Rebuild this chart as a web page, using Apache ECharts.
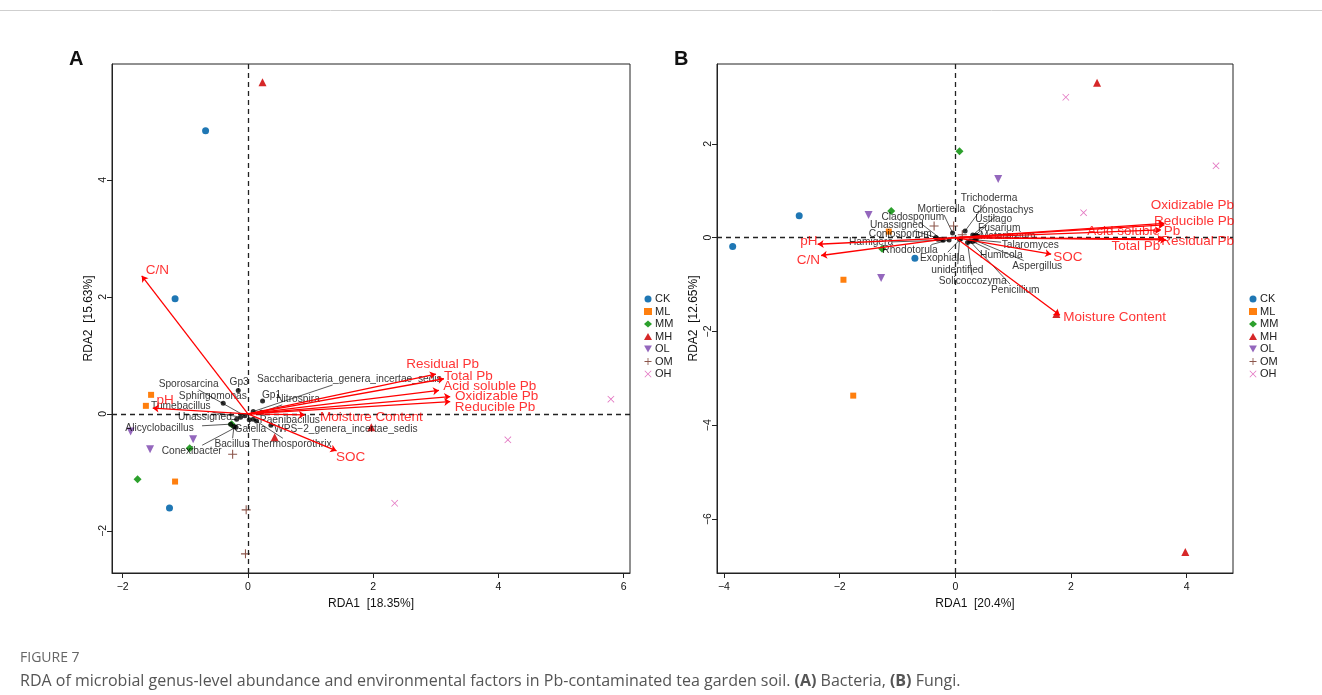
<!DOCTYPE html>
<html>
<head>
<meta charset="utf-8">
<script src="https://cdn.jsdelivr.net/npm/echarts@6/dist/echarts.min.js"></script>
<style>
  html, body { margin: 0; padding: 0; background: #fff; }
  #main { width: 1322px; height: 695px; }
</style>
</head>
<body>
<div id="main"></div>
<script>
var chartDom = document.getElementById('main');
var myChart = echarts.init(chartDom);
var option;

// groups and their look
let groups = ['CK', 'ML', 'MM', 'MH', 'OL', 'OM', 'OH'];
let groupColors = ['#1f77b4', '#ff7f0e', '#2ca02c', '#d62728', '#9467bd', '#8c564b', '#e377c2'];
let groupSymbols = [
  'circle', 'rect', 'diamond', 'triangle',
  'path://M0,0 L10,0 L5,9 Z',
  'path://M4.4,0H5.6V4.4H10V5.6H5.6V10H4.4V5.6H0V4.4H4.4Z',
  'path://M0,0.8 L0.8,0 L5,4.2 L9.2,0 L10,0.8 L5.8,5 L10,9.2 L9.2,10 L5,5.8 L0.8,10 L0,9.2 L4.2,5 Z'
];
let groupSizes = [7, 6, 8, 8, 8, 9, 7];

// ---- panel A (bacteria) ----
let sitesA = [
  [[-0.676, 4.84], [-1.163, 1.966], [-1.252, -1.61]],      // CK
  [[-1.546, 0.325], [-1.629, 0.137], [-1.163, -1.157]],    // ML
  [[-1.762, -1.117], [-0.93, -0.587], [-0.26, -0.176]],    // MM
  [[0.233, 5.67], [0.427, -0.399], [1.97, -0.227]],        // MH
  [[-1.873, -0.30], [-0.875, -0.433], [-1.562, -0.604]],   // OL
  [[-0.244, -0.689], [-0.028, -1.641], [-0.039, -2.393]],  // OM
  [[5.795, 0.251], [4.15, -0.444], [2.343, -1.527]]        // OH
];
let envNamesA = ['C/N', 'pH', 'Residual Pb', 'Total Pb', 'Acid soluble Pb', 'Oxidizable Pb', 'Reducible Pb', 'Moisture Content', 'SOC'];
let envTipA = [[-1.695, 2.359], [-1.52, 0.097], [3.0, 0.68], [3.13, 0.60], [3.05, 0.40], [3.23, 0.296], [3.23, 0.21], [0.91, -0.017], [1.414, -0.632]];
let envLabA = [[-1.446, 2.46], [-1.32, 0.24], [3.11, 0.855], [3.52, 0.65], [3.86, 0.48], [3.97, 0.296], [3.945, 0.114], [1.97, -0.063], [1.64, -0.74]];
let spNamesA = ['Gp3', 'Sphingomonas', 'Gp1', 'Nitrospira', 'Saccharibacteria_genera_incertae_sedis', 'Sporosarcina',
  'Tumebacillus', 'Unassigned', 'Paenibacillus', 'Alicyclobacillus', 'Gaiella', 'WPS\u22122_genera_incertae_sedis',
  'Bacillus', 'Thermosporothrix', 'Conexibacter'];
let spDotA = [[-0.155, 0.398], [-0.394, 0.183], [0.234, 0.222], [0.218, 0.029], [0.085, 0.04], [-0.048, -0.034],
  [-0.117, -0.057], [-0.18, -0.09], [0.138, -0.12], [-0.276, -0.176], [0.021, -0.10], [0.367, -0.194],
  [-0.223, -0.217], [0.085, -0.09], [-0.19, -0.228]];
let spLabA = [[-0.14, 0.535], [-0.56, 0.30], [0.377, 0.325], [0.80, 0.25], [1.62, 0.59], [-0.946, 0.507],
  [-1.07, 0.125], [-0.686, -0.057], [0.67, -0.114], [-1.41, -0.245], [0.04, -0.27], [1.563, -0.262],
  [-0.255, -0.513], [0.697, -0.513], [-0.898, -0.632]];

// ---- panel B (fungi) ----
let sitesB = [
  [[-2.699, 0.467], [-3.849, -0.191], [-0.699, -0.439]],   // CK
  [[-1.934, -0.899], [-1.765, -3.369], [-1.15, 0.127]],    // ML
  [[0.072, 1.84], [-1.108, 0.566], [-1.265, -0.24]],       // MM
  [[2.45, 3.30], [3.976, -6.70], [1.747, -1.628]],         // MH
  [[0.741, 1.246], [-1.5, 0.481], [-1.283, -0.863]],       // OL
  [[-0.367, 0.248], [-0.03, 0.248], [0.12, 0.06]],         // OM
  [[1.91, 2.99], [4.506, 1.529], [2.217, 0.531]]           // OH
];
let envNamesB = ['pH', 'C/N', 'SOC', 'Moisture Content', 'Oxidizable Pb', 'Reducible Pb', 'Acid soluble Pb', 'Total Pb', 'Residual Pb'];
let envTipB = [[-2.38, -0.142], [-2.32, -0.382], [1.657, -0.354], [1.807, -1.656], [3.614, 0.304], [3.614, 0.27], [3.554, 0.163], [3.60, -0.03], [3.645, -0.05]];
let envLabB = [[-2.53, -0.085], [-2.54, -0.474], [1.946, -0.418], [2.753, -1.70], [4.096, 0.679], [4.127, 0.354], [3.084, 0.142], [3.12, -0.177], [4.187, -0.085]];
let spNamesB = ['Trichoderma', 'Mortierella', 'Clonostachys', 'Cladosporium', 'Ustilago', 'Unassigned', 'Fusarium',
  'Coniosporium', 'Metarhizium', 'Hamigera', 'Talaromyces', 'Rhodotorula', 'Exophiala', 'Humicola', 'Aspergillus',
  'unidentified', 'Solicoccozyma', 'Penicillium'];
let spDotB = [[0.169, 0.142], [-0.048, 0.099], [0.301, 0.057], [-0.241, -0.035], [0.331, 0.035], [-0.337, 0], [0.361, 0.05],
  [-0.301, -0.035], [0.392, 0.021], [-0.211, -0.057], [0.361, -0.05], [-0.108, -0.05], [0.09, -0.028], [0.301, -0.085],
  [0.337, -0.057], [0.072, -0.035], [0.211, -0.106], [0.253, -0.078]];
let spLabB = [[0.584, 0.835], [-0.241, 0.60], [0.825, 0.58], [-0.735, 0.432], [0.663, 0.382], [-1.012, 0.269], [0.759, 0.198],
  [-0.952, 0.071], [0.904, 0.035], [-1.458, -0.106], [1.295, -0.156], [-0.783, -0.269], [-0.223, -0.432], [0.795, -0.382],
  [1.416, -0.609], [0.036, -0.686], [0.301, -0.92], [1.036, -1.111]];

// axis ranges and grid boxes
let boxA = { left: 112, top: 64, width: 518, height: 509, x: [-2.17, 6.1], y: [-2.72, 5.98] };
let boxB = { left: 717, top: 64, width: 516, height: 509, x: [-4.12, 4.8], y: [-7.15, 3.7] };

let font = 'Liberation Sans';
let spFont = 10.2;

function minus(v) { return v < 0 ? '\u2212' + (-v) : '' + v; }

// leader line from label edge to species point
function leaders(names, dots, labs, box) {
  let upx = (box.x[1] - box.x[0]) / box.width;
  let upy = (box.y[1] - box.y[0]) / box.height;
  let out = [];
  for (let i = 0; i < names.length; i++) {
    let hw = names[i].length * spFont * 0.26 * upx;
    let hh = spFont * 0.55 * upy;
    let dx = dots[i][0] - labs[i][0], dy = dots[i][1] - labs[i][1];
    let t = Math.min(dx !== 0 ? hw / Math.abs(dx) : 99, dy !== 0 ? hh / Math.abs(dy) : 99);
    if (t >= 1) continue;
    out.push({ coords: [[labs[i][0] + dx * t, labs[i][1] + dy * t], dots[i]] });
  }
  return out;
}

function axes(box, idx, xName, yName, xTicks, yTicks) {
  let common = {
    gridIndex: idx,
    nameLocation: 'middle',
    nameTextStyle: { fontFamily: font, fontSize: 12, color: '#111' },
    axisLine: { onZero: false, lineStyle: { color: '#222', width: 1 } },
    splitLine: { show: false }
  };
  let x = Object.assign({}, common, {
    type: 'value', min: box.x[0], max: box.x[1], name: xName, nameGap: 25,
    axisTick: { length: 5, lineStyle: { color: '#222' }, customValues: xTicks },
    axisLabel: { fontFamily: font, fontSize: 10.5, color: '#111', margin: 9, customValues: xTicks, formatter: minus }
  });
  let y = Object.assign({}, common, {
    type: 'value', min: box.y[0], max: box.y[1], name: yName, nameGap: 17,
    axisTick: { length: 5, lineStyle: { color: '#222' }, customValues: yTicks },
    axisLabel: { fontFamily: font, fontSize: 10.5, color: '#111', margin: 3, rotate: 90, customValues: yTicks, formatter: minus }
  });
  return [x, y];
}

let axA = axes(boxA, 0, 'RDA1  [18.35%]', 'RDA2  [15.63%]', [-2, 0, 2, 4, 6], [-2, 0, 2, 4]);
let axB = axes(boxB, 1, 'RDA1  [20.4%]', 'RDA2  [12.65%]', [-4, -2, 0, 2, 4], [-6, -4, -2, 0, 2]);

function panelSeries(idx, box, sites, envNames, envTip, envLab, spNames, spDot, spLab) {
  let s = [];
  // zero lines
  s.push({
    type: 'line', xAxisIndex: idx, yAxisIndex: idx, data: [], silent: true,
    markLine: {
      silent: true, symbol: 'none', label: { show: false },
      lineStyle: { color: '#222', type: [5, 4], width: 1.3 },
      data: [{ xAxis: 0 }, { yAxis: 0 }]
    }
  });
  // leader lines
  s.push({
    type: 'lines', coordinateSystem: 'cartesian2d', xAxisIndex: idx, yAxisIndex: idx, silent: true, z: 3,
    lineStyle: { color: '#222', width: 0.75, opacity: 1 },
    data: leaders(spNames, spDot, spLab, box)
  });
  // samples
  groups.forEach(function (g, gi) {
    s.push({
      name: g, type: 'scatter', xAxisIndex: idx, yAxisIndex: idx, z: 4,
      symbol: groupSymbols[gi], symbolSize: groupSizes[gi],
      itemStyle: { color: groupColors[gi], opacity: 1 },
      data: sites[gi]
    });
  });
  // species points
  s.push({
    type: 'scatter', xAxisIndex: idx, yAxisIndex: idx, z: 5, silent: true,
    symbol: 'circle', symbolSize: 5, itemStyle: { color: '#000' },
    data: spDot
  });
  // species names
  s.push({
    type: 'scatter', xAxisIndex: idx, yAxisIndex: idx, z: 6, silent: true,
    symbolSize: 1, itemStyle: { color: 'rgba(0,0,0,0)' },
    label: { show: true, position: 'inside', formatter: '{b}', color: '#000', fontFamily: font, fontSize: spFont },
    data: spLab.map(function (p, i) { return { name: spNames[i], value: p }; })
  });
  // environmental arrows
  s.push({
    type: 'lines', coordinateSystem: 'cartesian2d', xAxisIndex: idx, yAxisIndex: idx, silent: true, z: 7,
    symbol: ['none', 'arrow'], symbolSize: 6,
    lineStyle: { color: '#ff0000', width: 1.3, opacity: 1 },
    data: envTip.map(function (t) { return { coords: [[0, 0], t] }; })
  });
  s.push({
    type: 'scatter', xAxisIndex: idx, yAxisIndex: idx, z: 8, silent: true,
    symbolSize: 1, itemStyle: { color: 'rgba(0,0,0,0)' },
    label: { show: true, position: 'inside', formatter: '{b}', color: '#ff0000', fontFamily: font, fontSize: 13.5 },
    data: envLab.map(function (p, i) { return { name: envNames[i], value: p }; })
  });
  return s;
}

function legendAt(left) {
  return {
    data: groups, orient: 'vertical', left: left, top: 293, padding: 0,
    itemWidth: 8, itemHeight: 7, itemGap: 0.5,
    textStyle: { fontFamily: font, fontSize: 11, color: '#222', lineHeight: 12, padding: [0, 0, 0, -2] }
  };
}

option = {
  animation: false,
  backgroundColor: '#fff',
  grid: [
    { left: boxA.left, top: boxA.top, width: boxA.width, height: boxA.height, show: true, borderColor: '#222', borderWidth: 1 },
    { left: boxB.left, top: boxB.top, width: boxB.width, height: boxB.height, show: true, borderColor: '#222', borderWidth: 1 }
  ],
  xAxis: [axA[0], axB[0]],
  yAxis: [axA[1], axB[1]],
  legend: [legendAt(644), legendAt(1249)],
  series: panelSeries(0, boxA, sitesA, envNamesA, envTipA, envLabA, spNamesA, spDotA, spLabA)
    .concat(panelSeries(1, boxB, sitesB, envNamesB, envTipB, envLabB, spNamesB, spDotB, spLabB)),
  graphic: [
    { type: 'line', shape: { x1: 0, y1: 10.5, x2: 1322, y2: 10.5 }, style: { stroke: '#cfcfcf', lineWidth: 1 } },
    { type: 'text', left: 69, top: 49, style: { text: 'A', font: 'bold 20px "Liberation Sans"', fill: '#111' } },
    { type: 'text', left: 674, top: 49, style: { text: 'B', font: 'bold 20px "Liberation Sans"', fill: '#111' } },
    { type: 'text', left: 20, top: 651, style: { text: 'FIGURE 7', font: '14px "Open Sans"', fill: '#666' } },
    {
      type: 'text', left: 20, top: 673,
      style: {
        text: 'RDA of microbial genus-level abundance and environmental factors in Pb-contaminated tea garden soil. {b|(A)} Bacteria, {b|(B)} Fungi.',
        font: '16px "Open Sans"', fill: '#555',
        rich: { b: { fontWeight: 'bold', fontFamily: 'Open Sans', fontSize: 16, fill: '#555', color: '#555' } }
      }
    }
  ]
};

option && myChart.setOption(option);
</script>
</body>
</html>
